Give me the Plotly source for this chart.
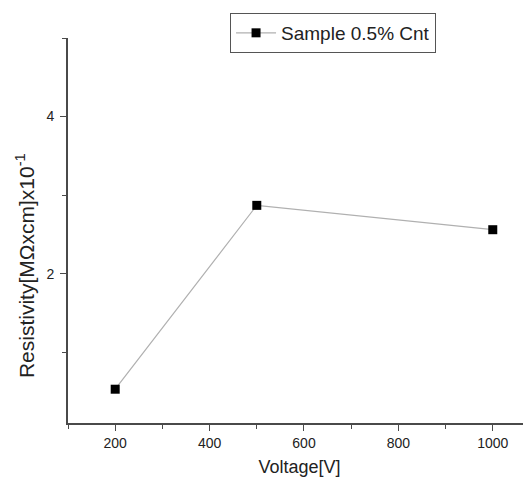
import plotly.graph_objects as go

voltage = [200, 500, 1000]
resistivity = [0.53, 2.87, 2.56]
series_name = "Sample 0.5% Cnt"
x_ticks = [200, 400, 600, 800, 1000]
x_minor = [100, 300, 500, 700, 900]
y_ticks = [2, 4]
y_minor = [1, 3, 5]

FONT = "Liberation Sans, Arial, sans-serif"
AXIS = "#4a4a4a"
TXT = "#222222"

fig = go.Figure()
fig.add_trace(go.Scatter(
    x=voltage, y=resistivity, name=series_name, mode="lines+markers",
    line=dict(color="#b0b0b0", width=1.2),
    marker=dict(symbol="square", size=9, color="#000000"),
    showlegend=True,
))

# page body adds an 8px offset, so the figure is smaller and margins shifted
fig.update_layout(
    width=523, height=469,
    margin=dict(l=60, r=0, t=30, b=54, autoexpand=False),
    paper_bgcolor="white", plot_bgcolor="white",
    font=dict(family=FONT, color=TXT),
    showlegend=True,
    legend=dict(
        x=0.35, y=1.065, xanchor="left", yanchor="top",
        bordercolor="#555555", borderwidth=1, bgcolor="white",
        font=dict(size=19, family=FONT, color=TXT),
        itemwidth=40, tracegroupgap=0,
    ),
    xaxis=dict(
        range=[100, 1081], showline=True, linecolor=AXIS, linewidth=1.6,
        showgrid=False, zeroline=False, automargin=False,
        tickmode="array", tickvals=x_ticks, ticks="outside", ticklen=6,
        tickwidth=1.3, tickcolor=AXIS,
        tickfont=dict(size=14, family=FONT, color=TXT),
        minor=dict(tickvals=x_minor, ticks="outside", ticklen=4, tickwidth=1.3, tickcolor=AXIS),
        title=dict(text="Voltage[V]", font=dict(size=18, family=FONT, color=TXT), standoff=14),
    ),
    yaxis=dict(
        range=[0.1, 5.0], showline=True, linecolor=AXIS, linewidth=1.6,
        showgrid=False, zeroline=False, automargin=False,
        tickmode="array", tickvals=y_ticks, ticks="outside", ticklen=6,
        tickwidth=1.3, tickcolor=AXIS,
        tickfont=dict(size=14, family=FONT, color=TXT),
        ticklabelstandoff=3,
        minor=dict(tickvals=y_minor, ticks="outside", ticklen=4, tickwidth=1.3, tickcolor=AXIS),
    ),
    annotations=[dict(
        text="Resistivity[MΩxcm]x10<sup>-1</sup>",
        xref="paper", yref="paper", x=-0.093, y=0.41,
        xanchor="center", yanchor="middle", textangle=-90, showarrow=False,
        font=dict(size=21, family=FONT, color=TXT),
    )],
)

fig.write_html("out.html")
